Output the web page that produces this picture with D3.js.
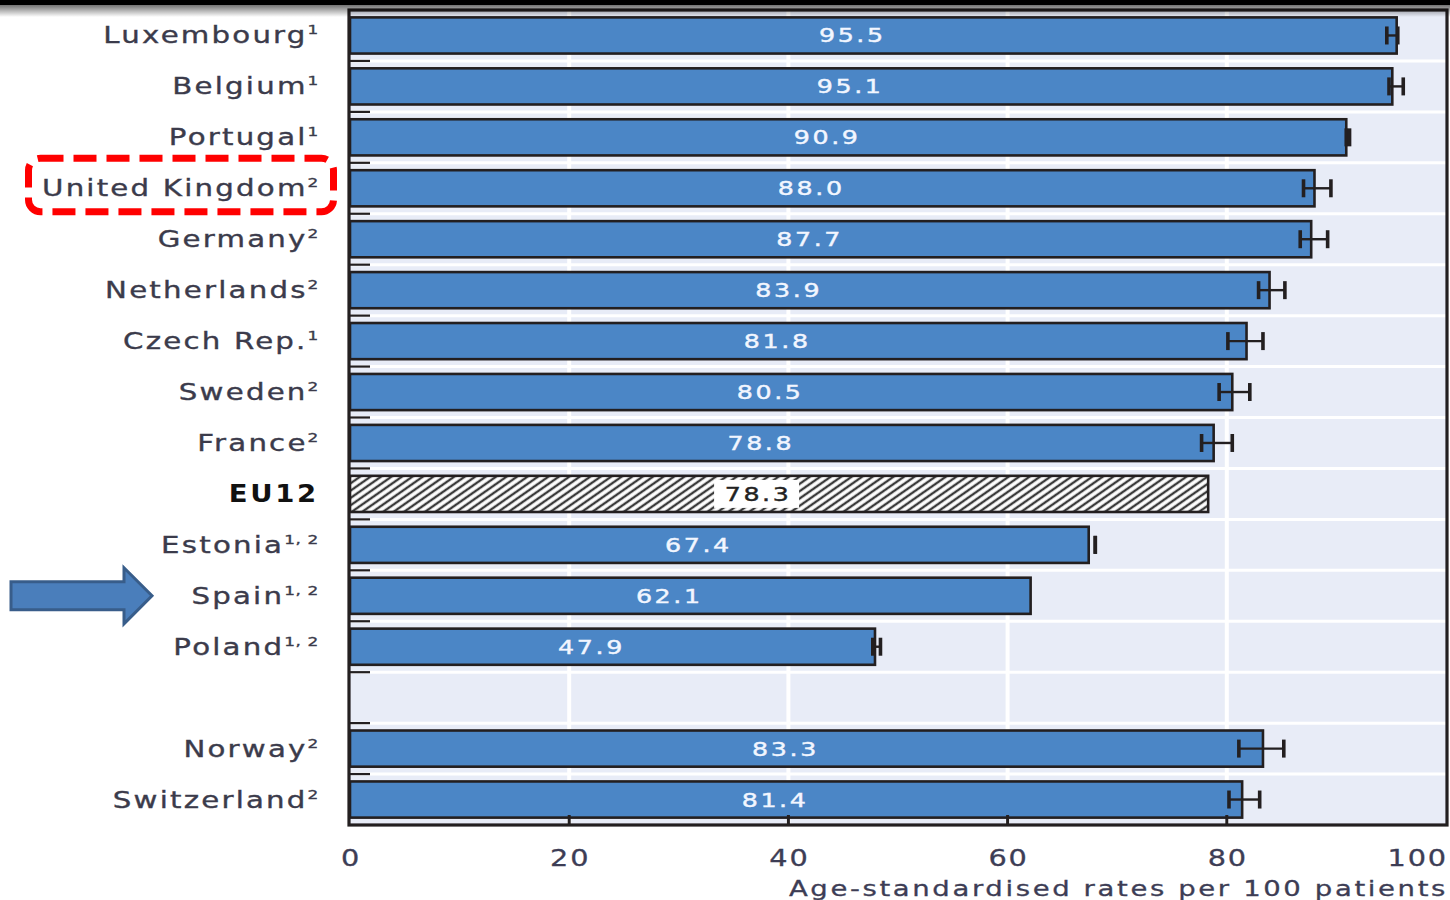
<!DOCTYPE html>
<html>
<head>
<meta charset="utf-8">
<script src="https://cdnjs.cloudflare.com/ajax/libs/d3/7.8.5/d3.min.js"></script>
<style>
  body { margin: 0; background: #fff; }
  svg { display: block; }
  text { font-family: 'DejaVu Sans', sans-serif; }
</style>
</head>
<body>
<div id="chart"></div>
<script>
// rows from top to bottom; '' is the empty gap row
const countries = ['Luxembourg', 'Belgium', 'Portugal', 'United Kingdom', 'Germany', 'Netherlands',
  'Czech Rep.', 'Sweden', 'France', 'EU12', 'Estonia', 'Spain', 'Poland', '', 'Norway', 'Switzerland']
const notes = ['1', '1', '1', '2', '2', '2', '1', '2', '2', '', '1, 2', '1, 2', '1, 2', '', '2', '2']
const rates = [95.5, 95.1, 90.9, 88.0, 87.7, 83.9, 81.8, 80.5, 78.8, 78.3, 67.4, 62.1, 47.9, null, 83.3, 81.4]
const ciLow = [94.6, 94.8, 90.9, 87.0, 86.7, 82.9, 80.1, 79.3, 77.7, null, 68.0, null, 47.7, null, 81.1, 80.2]
const ciHigh = [95.6, 96.1, 91.2, 89.5, 89.2, 85.3, 83.3, 82.1, 80.5, null, 68.0, null, 48.4, null, 85.2, 83.0]
const xTicks = [0, 20, 40, 60, 80, 100]
const xTitle = 'Age-standardised rates per 100 patients'
const averageRow = 'EU12'
const highlightRow = 'United Kingdom'
const arrowRow = 'Spain'

const W = 1450
const H = 900
const plot = { left: 349, right: 1447, top: 10, bottom: 825 }
const stretch = 1.3 // the source text is drawn wide

const rows = countries.map((c, i) => ({
  key: i + '|' + c,
  name: c,
  note: notes[i],
  rate: rates[i],
  lo: ciLow[i],
  hi: ciHigh[i]
}))

const svg = d3
  .select('#chart')
  .append('svg')
  .attr('width', W)
  .attr('height', H)

const defs = svg.append('defs')

// hatch for the EU12 average bar
const hatch = defs
  .append('pattern')
  .attr('id', 'hatch')
  .attr('patternUnits', 'userSpaceOnUse')
  .attr('width', 6)
  .attr('height', 6)
  .attr('patternTransform', 'rotate(-35)')
hatch.append('rect').attr('width', 6).attr('height', 6).attr('fill', '#fff')
hatch
  .append('line')
  .attr('x1', 0).attr('y1', 3).attr('x2', 6).attr('y2', 3)
  .attr('stroke', '#3a3a3a')
  .attr('stroke-width', 2.4)

const shade = defs
  .append('linearGradient')
  .attr('id', 'shade')
  .attr('x1', 0).attr('y1', 0).attr('x2', 0).attr('y2', 1)
shade.append('stop').attr('offset', '0%').attr('stop-color', '#000').attr('stop-opacity', 0.55)
shade.append('stop').attr('offset', '100%').attr('stop-color', '#000').attr('stop-opacity', 0)

const xPositionScale = d3.scaleLinear().domain([0, 100]).range([plot.left + 1, plot.right - 1])
const yPositionScale = d3
  .scaleBand()
  .domain(rows.map(d => d.key))
  .range([plot.top, plot.bottom])
  .paddingInner(0.29)
  .paddingOuter(0.145)

const step = yPositionScale.step()
const bw = yPositionScale.bandwidth()
const yMid = key => yPositionScale(key) + bw / 2
const keyOf = name => rows.find(d => d.name === name).key

// wide text helper: anchor point (x, y), stretched horizontally
function wideText(g, x, y, sx) {
  return g.append('text').attr('transform', `translate(${x},${y}) scale(${sx},1)`)
}

// plot background
svg
  .append('rect')
  .attr('x', plot.left)
  .attr('y', plot.top)
  .attr('width', plot.right - plot.left)
  .attr('height', plot.bottom - plot.top)
  .attr('fill', '#e8ecf7')

// horizontal separators between rows
const boundaries = rows.slice(1).map(d => yMid(d.key) - step / 2)
svg
  .append('g')
  .selectAll('line')
  .data(boundaries)
  .enter()
  .append('line')
  .attr('x1', plot.left)
  .attr('x2', plot.right)
  .attr('y1', d => d)
  .attr('y2', d => d)
  .attr('stroke', '#fff')
  .attr('stroke-width', 3)

// vertical gridlines
svg
  .append('g')
  .selectAll('line')
  .data(xTicks.slice(1, -1))
  .enter()
  .append('line')
  .attr('x1', d => xPositionScale(d))
  .attr('x2', d => xPositionScale(d))
  .attr('y1', plot.top)
  .attr('y2', plot.bottom)
  .attr('stroke', '#fff')
  .attr('stroke-width', 4)

// left ticks on row boundaries
svg
  .append('g')
  .selectAll('line')
  .data(boundaries)
  .enter()
  .append('line')
  .attr('x1', plot.left)
  .attr('x2', plot.left + 21)
  .attr('y1', d => d)
  .attr('y2', d => d)
  .attr('stroke', '#231f20')
  .attr('stroke-width', 2.2)

const data = rows.filter(d => d.rate !== null)

// bars
svg
  .append('g')
  .selectAll('rect')
  .data(data)
  .enter()
  .append('rect')
  .attr('x', xPositionScale(0))
  .attr('y', d => yPositionScale(d.key))
  .attr('width', d => xPositionScale(d.rate) - xPositionScale(0))
  .attr('height', bw)
  .attr('fill', d => (d.name === averageRow ? 'url(#hatch)' : '#4b86c6'))
  .attr('stroke', '#231f20')
  .attr('stroke-width', 2.6)

// error bars
const errs = data.filter(d => d.lo !== null)
const eg = svg.append('g').attr('stroke', '#231f20')
eg.selectAll('.ci')
  .data(errs)
  .enter()
  .append('line')
  .attr('x1', d => xPositionScale(d.lo))
  .attr('x2', d => xPositionScale(d.hi))
  .attr('y1', d => yMid(d.key))
  .attr('y2', d => yMid(d.key))
  .attr('stroke-width', 2.4)
eg.selectAll('.cap')
  .data(errs.flatMap(d => [{ key: d.key, v: d.lo }, { key: d.key, v: d.hi }]))
  .enter()
  .append('line')
  .attr('x1', d => xPositionScale(d.v))
  .attr('x2', d => xPositionScale(d.v))
  .attr('y1', d => yMid(d.key) - 9)
  .attr('y2', d => yMid(d.key) + 9)
  .attr('stroke-width', 3.6)

// value labels
const vg = svg.append('g')
data.forEach(d => {
  const cx = (xPositionScale(0) + xPositionScale(d.rate)) / 2 - 21
  if (d.name === averageRow) {
    vg.append('rect')
      .attr('x', cx - 44)
      .attr('y', yMid(d.key) - 14)
      .attr('width', 85)
      .attr('height', 28)
      .attr('fill', '#fff')
  }
  const dark = d.name === averageRow
  wideText(vg, cx, yMid(d.key) + 7, stretch)
    .text(d.rate.toFixed(1))
    .attr('text-anchor', 'middle')
    .attr('font-size', 19.5)
    .attr('letter-spacing', 2)
    .attr('fill', dark ? '#222' : '#f2f6ff')
    .attr('stroke', dark ? '#222' : '#f2f6ff')
    .attr('stroke-width', 0.4)
})

// frame
svg
  .append('rect')
  .attr('x', plot.left)
  .attr('y', plot.top)
  .attr('width', plot.right - plot.left)
  .attr('height', plot.bottom - plot.top)
  .attr('fill', 'none')
  .attr('stroke', '#231f20')
  .attr('stroke-width', 3.2)

// bottom inner ticks
svg
  .append('g')
  .selectAll('line')
  .data(xTicks.slice(1, -1))
  .enter()
  .append('line')
  .attr('x1', d => xPositionScale(d))
  .attr('x2', d => xPositionScale(d))
  .attr('y1', plot.bottom - 10)
  .attr('y2', plot.bottom)
  .attr('stroke', '#231f20')
  .attr('stroke-width', 3)

// x tick labels
const tg = svg.append('g')
xTicks.forEach((t, i) => {
  const last = i === xTicks.length - 1
  wideText(tg, last ? plot.right + 1 : xPositionScale(t) + 1, 866, 1.25)
    .text(t)
    .attr('text-anchor', last ? 'end' : 'middle')
    .attr('font-size', 23)
    .attr('letter-spacing', 1.5)
    .attr('fill', '#3d3d55')
    .attr('stroke', '#3d3d55')
    .attr('stroke-width', 0.3)
})

wideText(svg, plot.right + 1, 896, 1.25)
  .text(xTitle)
  .attr('text-anchor', 'end')
  .attr('font-size', 22)
  .attr('letter-spacing', 2.1)
  .attr('fill', '#3d3d55')
  .attr('stroke', '#3d3d55')
  .attr('stroke-width', 0.3)

// country labels
const lg = svg.append('g')
rows.filter(d => d.name !== '').forEach(d => {
  const avg = d.name === averageRow
  const t = wideText(lg, 319, yMid(d.key) + 8, avg ? 1.1 : stretch)
    .attr('text-anchor', 'end')
    .attr('font-size', avg ? 25 : 22.5)
    .attr('font-weight', avg ? 'bold' : 'normal')
    .attr('letter-spacing', avg ? 2.5 : 1.7)
    .attr('fill', avg ? '#111' : '#3b3b4b')
    .attr('stroke', avg ? 'none' : '#3b3b4b')
    .attr('stroke-width', 0.35)
  t.append('tspan').text(d.name)
  if (d.note) {
    t.append('tspan')
      .text(d.note)
      .attr('font-size', 13)
      .attr('letter-spacing', 0.5)
      .attr('dy', -9)
  }
})

// highlight box round the United Kingdom label
const hy = yMid(keyOf(highlightRow))
svg
  .append('rect')
  .attr('x', 28.5)
  .attr('y', hy - 30)
  .attr('width', 305)
  .attr('height', 53.5)
  .attr('rx', 12)
  .attr('fill', 'none')
  .attr('stroke', '#ff0000')
  .attr('stroke-width', 7)
  .attr('stroke-dasharray', '23,10')

// arrow pointing at Spain
const ay = yMid(keyOf(arrowRow))
const arrowPts = [
  [11, ay - 14], [124, ay - 14], [124, ay - 28], [152, ay],
  [124, ay + 28], [124, ay + 14], [11, ay + 14]
]
svg
  .append('path')
  .attr('d', d3.line()(arrowPts) + 'Z')
  .attr('fill', '#4a7ebb')
  .attr('stroke', '#385d8a')
  .attr('stroke-width', 3)

// dark band and shadow at the top edge of the screenshot
svg.append('rect').attr('x', 0).attr('y', 0).attr('width', W).attr('height', 5).attr('fill', '#000')
svg.append('rect').attr('x', 0).attr('y', 5).attr('width', W).attr('height', 12).attr('fill', 'url(#shade)')
</script>
</body>
</html>
